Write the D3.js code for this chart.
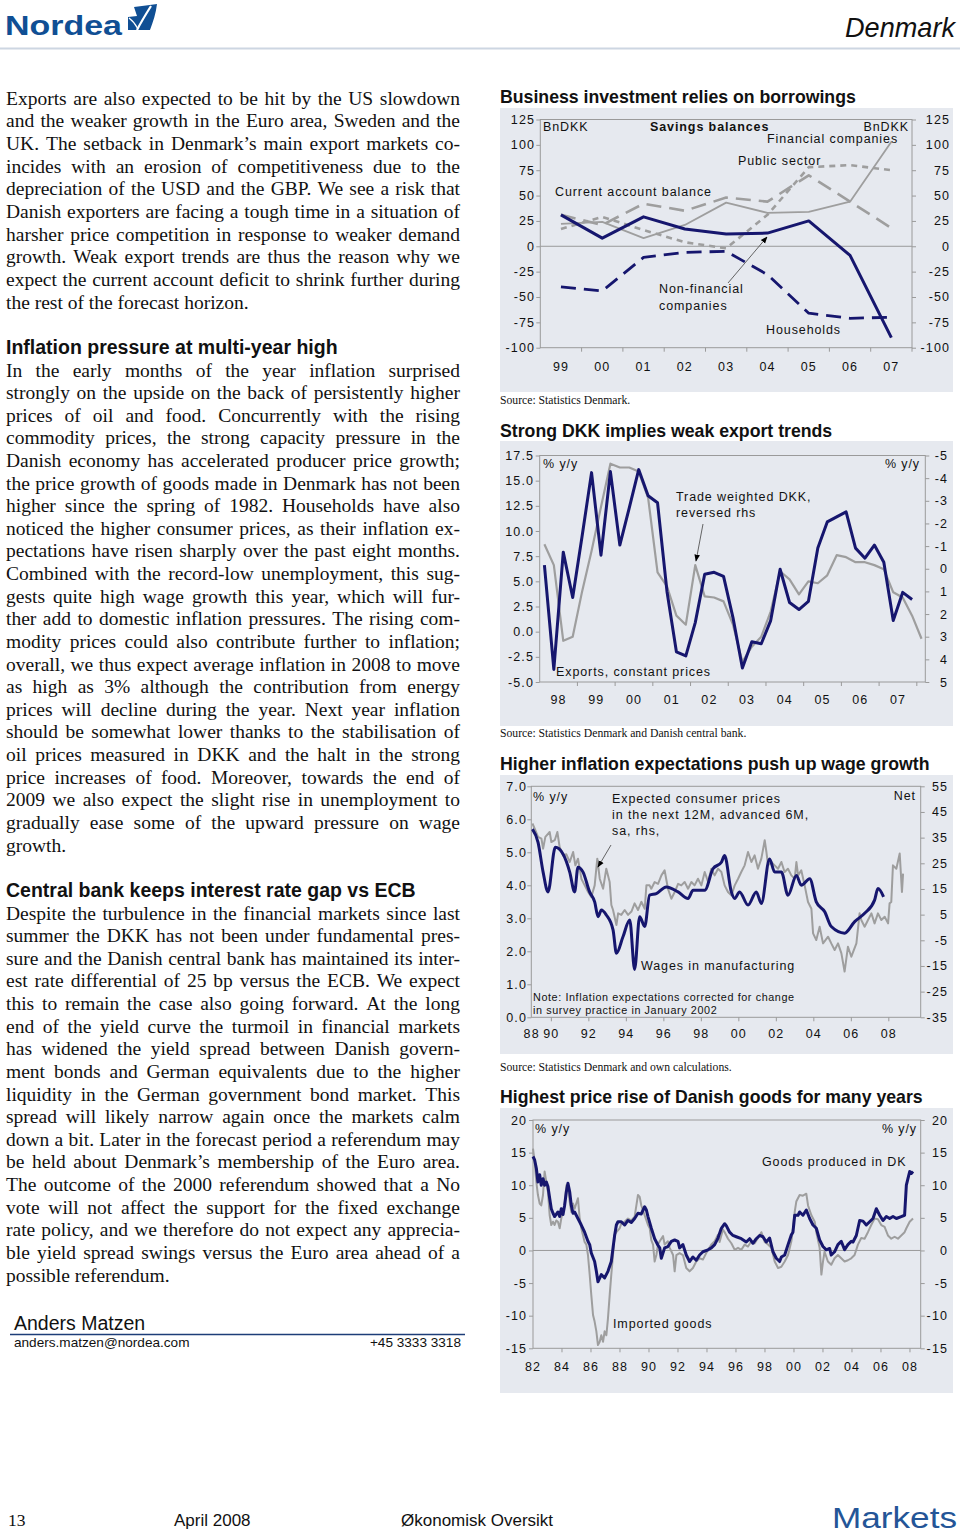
<!DOCTYPE html>
<html><head><meta charset="utf-8">
<script src="https://cdn.jsdelivr.net/npm/d3@7"></script>
<style>
html,body{margin:0;padding:0;background:#fff;}
svg{display:block;}
</style></head>
<body>
<svg id="page" width="960" height="1534"></svg>
<script>
// ================= DATA =================
// Chart 1: Savings balances, BnDKK
const years1 = ["99","00","01","02","03","04","05","06","07"];
const nonFinancial1 = [31, 8, 29, 17, 12, 13, 25, -9, -90];
const households1 = [-40, -44, -11, -6, -5, -28, -66, -71, -70];
const financial1 = [22, 24, 8, 21, 43, 33, 34, 44, 103];
const currentAccount1 = [31, 21, 42, 35, 48, 44, 70, 44, 18];
const publicSector1 = [17, 29, 16, 4, -2, 31, 78, 80, 75];
const yTicks1 = [125, 100, 75, 50, 25, 0, -25, -50, -75, -100];

// Chart 2: quarterly, Q1 1998 .. Q1 2008
const yearLabels2 = ["98","99","00","01","02","03","04","05","06","07"];
const exports2 = [6.6, -3.75, 7.9, 3.4, 9.5, 15.8, 7.6, 15.9, 8.6, 12.3,
  16.1, 13.5, 12.8, 4.0, -2.0, -2.4, 0.9, 5.7, 5.9, 5.5,
  1.4, -3.6, -1.0, -1.2, 1.1, 6.2, 2.9, 2.2, 3.0, 8.3,
  10.9, 11.4, 11.9, 8.3, 7.3, 8.6, 6.9, 1.1, 3.9, 3.2];
const tradeDKK2 = [-1.08, -0.16, 3.18, 3.0, 1.0, -0.78, -2.73, -4.64, -4.47, -4.47,
  -4.29, -3.13, 0.16, 0.78, 2.07, 2.47, -0.16, 1.22, 1.27, 1.44,
  2.47, 4.11, 3.44, 3.0, 1.89, 0.11, 0.47, 1.13, 0.56, 0.64,
  0.29, -0.6, -0.51, -0.29, -0.29, -0.16, 0.02, 1.04, 1.27, 2.07, 3.09];
const yTicksL2 = [17.5, 15, 12.5, 10, 7.5, 5, 2.5, 0, -2.5, -5];
const yTicksR2 = [-5, -4, -3, -2, -1, 0, 1, 2, 3, 4, 5];

// Chart 3
const wageYears3 = [1988.99,1989.29,1989.56,1989.82,1990.21,1990.62,1990.98,1991.24,1991.42,1991.69,
  1992.04,1992.31,1992.49,1992.67,1992.93,1993.29,1993.47,1993.82,1994.18,1994.44,
  1994.71,1994.98,1995.24,1995.60,1996.13,1996.76,1997.29,1997.56,1998.18,1998.62,
  1999.07,1999.24,1999.60,1999.78,2000.04,2000.49,2000.93,2001.20,2001.64,2001.91,
  2002.27,2002.62,2003.07,2003.33,2003.78,2004.13,2004.58,2004.93,2005.64,2006.18,
  2006.71,2007.24,2007.42,2007.72];
const wages3 = [5.7,5.3,4.4,3.8,5.15,4.95,4.4,3.8,4.55,4.4,
  3.8,3.5,3.05,3.25,3.1,2.65,1.94,2.44,2.95,1.45,
  3.05,2.75,3.7,3.75,3.95,3.8,3.6,3.85,3.85,4.5,
  4.7,4.9,3.8,3.6,3.8,3.4,3.8,3.45,4.8,4.4,
  4.4,3.7,4.3,4.0,4.2,3.5,3.2,2.75,2.55,2.9,
  3.15,3.55,3.9,3.65];
const expYears3 = [1988.99,1989.11,1989.29,1989.47,1989.56,1989.68,1989.91,1990.00,1990.18,1990.32,
  1990.44,1990.62,1990.80,1990.98,1991.16,1991.28,1991.42,1991.60,1991.78,1991.96,
  1992.13,1992.31,1992.45,1992.58,1992.76,1992.93,1993.11,1993.20,1993.29,1993.47,
  1993.56,1993.73,1993.91,1994.09,1994.27,1994.44,1994.62,1994.80,1994.98,1995.07,
  1995.24,1995.33,1995.51,1995.69,1995.87,1996.04,1996.22,1996.40,1996.58,1996.76,
  1996.93,1997.11,1997.29,1997.47,1997.64,1997.82,1998.00,1998.18,1998.36,1998.53,
  1998.71,1998.89,1999.07,1999.24,1999.42,1999.60,1999.78,1999.96,2000.13,2000.31,
  2000.49,2000.67,2000.84,2001.02,2001.20,2001.38,2001.47,2001.56,2001.73,2001.91,
  2002.09,2002.27,2002.44,2002.62,2002.80,2002.98,2003.07,2003.16,2003.33,2003.51,
  2003.69,2003.87,2003.96,2004.13,2004.31,2004.49,2004.76,2004.93,2005.11,2005.29,
  2005.47,2005.64,2005.82,2006.00,2006.27,2006.44,2006.53,2006.71,2006.89,2007.07,
  2007.24,2007.42,2007.60,2007.78,2007.96,2008.04,2008.13,2008.22,2008.40,2008.58,
  2008.70,2008.76];
const expect3 = [40.5,38.5,35.3,34.6,30.7,35.3,37.2,33.3,34.0,37.2,
  31.4,28.1,28.5,25.5,29.4,24.2,26.8,19.0,16.4,13.8,
  11.9,16.4,26.8,19.0,15.1,22.9,17.7,8.75,6.8,0.95,
  5.5,4.9,6.8,4.9,6.2,9.4,6.8,10.0,7.3,16.4,
  16.4,15.1,17.7,17.0,20.3,22.3,15.1,11.2,13.8,17.0,
  16.4,17.7,15.1,17.7,16.4,19.0,16.4,21.6,17.7,22.9,
  20.3,22.9,21.6,16.4,13.8,12.5,16.4,19.0,21.6,24.2,
  29.4,25.5,28.1,22.9,26.8,34.0,29.4,24.2,25.5,24.2,
  22.9,25.5,21.6,22.9,20.3,19.0,25.5,20.3,22.3,16.4,
  9.9,7.3,-2.3,-4.9,0.3,-6.2,-3.6,-6.2,-8.8,-6.2,
  -10.1,-17.2,-7.5,-11.4,-6.2,5.5,2.9,0.3,2.9,5.5,
  1.6,5.5,2.9,4.2,1.6,9.4,9.9,24.2,22.9,28.8,
  13.8,21.0];
const xTickYears3 = [1988.95,1990,1992,1994,1996,1998,2000,2002,2004,2006,2008];
const xTickLabels3 = ["88","90","92","94","96","98","00","02","04","06","08"];
const yTicksL3 = [7,6,5,4,3,2,1,0];
const yTicksR3 = [55,45,35,25,15,5,-5,-15,-25,-35];

// Chart 4
const domYears4 = [1982.00,1982.11,1982.23,1982.34,1982.46,1982.57,1982.69,1982.80,1982.92,1983.03,
  1983.15,1983.26,1983.38,1983.49,1983.72,1983.84,1983.95,1984.07,1984.18,1984.30,
  1984.41,1984.53,1984.64,1984.76,1984.87,1985.10,1985.33,1985.56,1985.79,1985.91,
  1986.02,1986.25,1986.37,1986.48,1986.71,1986.94,1987.17,1987.40,1987.52,1987.63,
  1987.75,1987.86,1988.09,1988.32,1988.55,1988.78,1989.01,1989.24,1989.47,1989.70,
  1989.82,1989.93,1990.16,1990.39,1990.62,1990.74,1990.85,1991.08,1991.31,1991.54,
  1991.77,1992.00,1992.11,1992.34,1992.57,1992.80,1993.03,1993.26,1993.49,1993.72,
  1994.07,1994.30,1994.53,1994.76,1994.99,1995.22,1995.33,1995.56,1995.79,1996.02,
  1996.37,1996.71,1996.94,1997.17,1997.40,1997.63,1997.86,1998.09,1998.32,1998.55,
  1998.78,1999.01,1999.13,1999.36,1999.59,1999.82,1999.93,2000.05,2000.28,2000.39,
  2000.62,2000.85,2001.08,2001.31,2001.54,2001.77,2002.00,2002.23,2002.46,2002.57,
  2002.80,2003.03,2003.26,2003.49,2003.72,2003.95,2004.07,2004.30,2004.53,2004.76,
  2004.99,2005.22,2005.45,2005.68,2005.91,2006.14,2006.37,2006.60,2006.83,2007.06,
  2007.40,2007.63,2007.75,2007.86,2007.98,2008.09,2008.21];
const domestic4 = [14.4,13.9,12.6,10.5,11.6,10.0,11.0,10.0,10.5,9.8,
  8.0,6.4,5.7,5.2,5.9,5.2,6.4,5.5,6.9,9.0,
  10.3,9.0,6.9,5.7,5.9,4.9,3.9,2.8,1.4,0.9,
  -0.4,-1.7,-3.2,-4.8,-3.7,-4.2,-3.2,-1.7,0.4,2.3,
  3.9,4.4,4.4,3.9,4.6,4.3,4.9,5.7,5.6,6.7,
  6.2,5.2,3.4,1.8,0.8,0.4,-1.2,0.4,0.6,1.4,
  1.6,1.4,0.4,0.9,-0.7,-1.7,-1.0,-1.5,-0.7,-0.2,
  0.1,0.4,0.9,1.9,3.4,4.1,3.8,2.8,2.3,2.1,
  1.8,1.3,1.8,1.1,1.8,2.3,2.1,1.3,1.9,-0.2,
  -1.2,-1.7,-1.0,-0.7,0.9,2.4,2.8,5.4,5.4,5.9,
  5.4,6.2,4.9,3.9,3.4,1.6,0.6,0.1,0.3,-0.7,
  -0.2,0.9,1.4,0.1,0.9,1.4,1.3,2.3,4.6,4.5,
  3.9,4.4,4.9,6.4,5.4,4.6,5.2,4.9,5.2,4.9,
  5.2,5.4,10.0,11.0,12.1,11.8,12.1];
const impYears4 = [1982.00,1982.11,1982.23,1982.34,1982.46,1982.57,1982.69,1982.80,1982.92,1983.03,
  1983.15,1983.26,1983.38,1983.49,1983.61,1983.72,1983.84,1983.95,1984.18,1984.30,
  1984.41,1984.53,1984.64,1984.76,1984.87,1985.10,1985.22,1985.33,1985.56,1985.68,
  1985.79,1985.91,1986.02,1986.14,1986.25,1986.37,1986.48,1986.60,1986.71,1986.83,
  1986.94,1987.06,1987.17,1987.29,1987.40,1987.52,1987.63,1987.75,1987.98,1988.09,
  1988.32,1988.55,1988.78,1989.01,1989.13,1989.24,1989.36,1989.47,1989.70,1989.93,
  1990.05,1990.16,1990.28,1990.39,1990.51,1990.62,1990.74,1990.97,1991.08,1991.31,
  1991.43,1991.66,1991.77,1991.89,1992.11,1992.34,1992.57,1992.80,1993.03,1993.26,
  1993.49,1993.72,1993.95,1994.30,1994.53,1994.76,1994.87,1995.10,1995.22,1995.45,
  1995.68,1995.91,1996.14,1996.37,1996.60,1996.83,1997.06,1997.29,1997.52,1997.75,
  1997.98,1998.21,1998.44,1998.67,1998.90,1999.13,1999.36,1999.59,1999.82,1999.93,
  2000.05,2000.16,2000.39,2000.62,2000.85,2000.97,2001.20,2001.43,2001.54,2001.77,
  2001.89,2002.00,2002.11,2002.34,2002.57,2002.80,2003.03,2003.26,2003.49,2003.72,
  2003.95,2004.18,2004.41,2004.64,2004.87,2005.10,2005.33,2005.56,2005.79,2006.02,
  2006.25,2006.48,2006.71,2006.94,2007.17,2007.40,2007.63,2007.75,2007.98,2008.21];
const imported4 = [15.6,13.6,10.5,8.5,7.2,6.9,8.5,12.1,10.5,9.0,
  5.4,3.9,4.4,3.9,4.6,4.4,3.4,4.9,6.9,10.0,
  10.0,7.5,5.9,7.2,6.4,8.0,4.9,3.4,1.3,0.9,
  -0.7,-3.7,-6.8,-9.9,-10.9,-12.4,-14.5,-14.0,-13.0,-14.0,
  -12.4,-13.0,-10.4,-6.8,-3.7,-0.7,2.4,2.8,3.4,4.1,
  4.4,4.9,4.6,5.2,6.9,8.5,8.2,6.9,5.4,3.9,
  3.4,1.6,0.9,-1.7,-0.7,0.9,1.4,2.2,0.9,1.4,
  0.4,-0.7,-3.2,-0.7,-0.4,-0.7,-2.7,-3.2,-2.7,-1.7,
  -1.2,-1.4,-0.4,0.9,1.4,2.4,1.3,3.2,2.8,1.8,
  1.1,0.1,0.4,0.1,0.9,0.6,1.4,1.1,1.9,2.8,
  1.3,0.9,0.4,-1.7,-2.7,-2.5,-1.7,-0.7,1.4,3.4,
  5.9,7.5,8.5,8.4,8.7,6.9,5.4,4.4,2.8,0.4,
  -3.7,-1.7,-0.2,-1.7,-2.2,-1.2,-0.7,-1.2,-1.7,-1.5,
  -1.2,-0.7,0.9,1.9,1.8,2.8,3.9,4.9,4.8,3.9,
  3.6,2.3,1.8,2.1,1.8,2.3,2.8,3.4,4.4,4.9];
const xTickLabels4 = ["82","84","86","88","90","92","94","96","98","00","02","04","06","08"];
const yTicks4 = [20,15,10,5,0,-5,-10,-15];

// Left column text
const para1 = [
 "Exports are also expected to be hit by the US slowdown",
 "and the weaker growth in the Euro area, Sweden and the",
 "UK. The setback in Denmark’s main export markets co-",
 "incides with an erosion of competitiveness due to the",
 "depreciation of the USD and the GBP. We see a risk that",
 "Danish exporters are facing a tough time in a situation of",
 "harsher price competition in response to weaker demand",
 "growth. Weak export trends are thus the reason why we",
 "expect the current account deficit to shrink further during",
 "the rest of the forecast horizon."];
const head2 = "Inflation pressure at multi-year high";
const para2 = [
 "In the early months of the year inflation surprised",
 "strongly on the upside on the back of persistently higher",
 "prices of oil and food. Concurrently with the rising",
 "commodity prices, the strong capacity pressure in the",
 "Danish economy has accelerated producer price growth;",
 "the price growth of goods made in Denmark has not been",
 "higher since the spring of 1982. Households have also",
 "noticed the higher consumer prices, as their inflation ex-",
 "pectations have risen sharply over the past eight months.",
 "Combined with the record-low unemployment, this sug-",
 "gests quite high wage growth this year, which will fur-",
 "ther add to domestic inflation pressures. The rising com-",
 "modity prices could also contribute further to inflation;",
 "overall, we thus expect average inflation in 2008 to move",
 "as high as 3% although the contribution from energy",
 "prices will decline during the year. Next year inflation",
 "should be somewhat lower thanks to the stabilisation of",
 "oil prices measured in DKK and the halt in the strong",
 "price increases of food. Moreover, towards the end of",
 "2009 we also expect the slight rise in unemployment to",
 "gradually ease some of the upward pressure on wage",
 "growth."];
const head3 = "Central bank keeps interest rate gap vs ECB";
const para3 = [
 "Despite the turbulence in the financial markets since last",
 "summer the DKK has not been under fundamental pres-",
 "sure and the Danish central bank has maintained its inter-",
 "est rate differential of 25 bp versus the ECB. We expect",
 "this to remain the case also going forward. At the long",
 "end of the yield curve the turmoil in financial markets",
 "has widened the yield spread between Danish govern-",
 "ment bonds and German equivalents due to the higher",
 "liquidity in the German government bond market. This",
 "spread will likely narrow again once the markets calm",
 "down a bit. Later in the forecast period a referendum may",
 "be held about Denmark’s membership of the Euro area.",
 "The outcome of the 2000 referendum showed that a No",
 "vote will not affect the support for the fixed exchange",
 "rate policy, and we therefore do not expect any apprecia-",
 "ble yield spread swings versus the Euro area ahead of a",
 "possible referendum."];

// ================= DRAWING =================
const SANS = "'Liberation Sans', Arial, Helvetica, sans-serif";
const SERIF = "'Liberation Serif', 'Times New Roman', serif";
const NAVY = "#16166e", GRAY = "#9e9e9e", PANEL = "#e6e9ef", FRAME = "#9a9a9a", INK = "#111";
const BLUE = "#104f94";
const svg = d3.select("#page");
const hyph = f => (d => f(d).replace("\u2212", "-"));
const fmtInt = hyph(d3.format("d")), fmt1 = hyph(d3.format(".1f"));

const defs = svg.append("defs");
defs.append("marker").attr("id","arr").attr("viewBox","0 0 10 10").attr("refX",9).attr("refY",5)
  .attr("markerWidth",7).attr("markerHeight",7).attr("markerUnits","userSpaceOnUse").attr("orient","auto")
  .append("path").attr("d","M0,1 L10,5 L0,9 Z").attr("fill","#000");

function txt(x, y, s, o = {}) {
  const t = svg.append("text").attr("x", x).attr("y", y).text(s)
    .attr("font-family", o.family || SANS).attr("font-size", o.size || 12.5)
    .attr("fill", o.fill || INK);
  if (o.weight) t.attr("font-weight", o.weight);
  if (o.style) t.attr("font-style", o.style);
  if (o.anchor) t.attr("text-anchor", o.anchor);
  if (o.ls != null) t.attr("letter-spacing", o.ls);
  if (o.len) t.attr("textLength", o.len).attr("lengthAdjust", "spacingAndGlyphs");
  return t;
}

// ---- header ----
txt(5, 35, "Nordea", {size: 28, weight: "bold", fill: BLUE, len: 117});
svg.append("path").attr("d","M128,17 L137,16 L134,7 C142,6 150,5 157,4 C156,13 153,22 150,30 L128,30 Z").attr("fill", BLUE);
svg.append("path").attr("d","M137,30 C141,22 146,14 151,6").attr("fill","none").attr("stroke","#fff").attr("stroke-width",2.2);
svg.append("path").attr("d","M129,18 C133,21 136,25 138,29").attr("fill","none").attr("stroke","#fff").attr("stroke-width",1.2);
txt(955, 37, "Denmark", {size: 28, style: "italic", anchor: "end", len: 110});
svg.append("line").attr("x1",0).attr("x2",960).attr("y1",48.5).attr("y2",48.5).attr("stroke","#cdd6e2").attr("stroke-width",2);

// ---- justified paragraphs ----
function paragraph(lines, x, y0, dy, width) {
  lines.forEach((ln, i) => {
    const t = svg.append("text").attr("y", y0 + i * dy).attr("font-family", SERIF)
      .attr("font-size", 19.5).attr("fill", INK);
    const words = ln.split(" ");
    const spans = words.map(w => t.append("tspan").text(w));
    const widths = spans.map(s => s.node().getComputedTextLength());
    const total = d3.sum(widths);
    const last = i === lines.length - 1;
    const gap = (!last && words.length > 1) ? (width - total) / (words.length - 1) : 19.5 * 0.25;
    let cx = x;
    spans.forEach((s, k) => { s.attr("x", cx); cx += widths[k] + gap; });
  });
}
paragraph(para1, 6, 104.5, 22.67, 454);
txt(6, 354, head2, {size: 19.5, weight: "bold"});
paragraph(para2, 6, 376.5, 22.62, 454);
txt(6, 897, head3, {size: 19.5, weight: "bold"});
paragraph(para3, 6, 919.5, 22.625, 454);

// ---- author ----
txt(14, 1330, "Anders Matzen", {size: 19.5});
svg.append("line").attr("x1",10).attr("x2",465).attr("y1",1334.5).attr("y2",1334.5).attr("stroke","#1d3d78").attr("stroke-width",1.5);
txt(14, 1347, "anders.matzen@nordea.com", {size: 13.6});
txt(461, 1347, "+45 3333 3318", {size: 13.6, anchor: "end"});

// ---- footer ----
txt(8, 1526, "13", {size: 17.5, family: SERIF});
txt(174, 1526, "April 2008", {size: 17});
txt(401, 1526, "Økonomisk Oversikt", {size: 17});
txt(832, 1528, "Markets", {size: 30, fill: "#245597", len: 125});

// ---- chart helpers ----
const TICKFONT = 12.5, TICKLS = 1.1;
function chartBase(title, titleY, py, ph, x0, x1, yTop, yBot, source, sourceY) {
  txt(500, titleY, title, {size: 17.7, weight: "bold"});
  svg.append("rect").attr("x", 500).attr("y", py).attr("width", 453).attr("height", ph).attr("fill", PANEL);
  svg.append("rect").attr("x", x0).attr("y", yTop).attr("width", x1 - x0).attr("height", yBot - yTop)
    .attr("fill", "none").attr("stroke", FRAME).attr("stroke-width", 1);
  if (source) txt(500, sourceY, source, {size: 11.7, family: SERIF});
}
function styleAxis(ax) {
  ax.select(".domain").remove();
  ax.selectAll("line").attr("stroke", FRAME);
  ax.selectAll("text").attr("font-family", SANS).attr("font-size", TICKFONT)
    .attr("letter-spacing", TICKLS).attr("fill", INK);
}
function leftAxis(scale, vals, fmt, x0, labelRight) {
  const ax = svg.append("g").attr("transform", `translate(${x0},0)`)
    .call(d3.axisLeft(scale).tickValues(vals).tickFormat(fmt).tickSize(4).tickPadding(x0 - labelRight - 4));
  styleAxis(ax);
}
function rightAxis(scale, vals, fmt, x1, labelRight) {
  const ax = svg.append("g").attr("transform", `translate(${x1},0)`)
    .call(d3.axisRight(scale).tickValues(vals).tickFormat(fmt).tickSize(4));
  styleAxis(ax);
  ax.selectAll("text").attr("text-anchor", "end").attr("x", labelRight - x1);
}
function bottomTicks(xs, y) {
  svg.append("g").selectAll("line").data(xs).join("line")
    .attr("x1", d => d).attr("x2", d => d).attr("y1", y).attr("y2", y + 4).attr("stroke", FRAME);
}
function bottomLabels(xs, labels, y) {
  svg.append("g").selectAll("text").data(labels).join("text")
    .attr("x", (d, i) => xs[i]).attr("y", y).attr("text-anchor", "middle")
    .attr("font-family", SANS).attr("font-size", TICKFONT).attr("letter-spacing", TICKLS)
    .attr("fill", INK).text(d => d);
}
function drawLine(pts, color, width, dash, curve) {
  const p = svg.append("path").datum(pts)
    .attr("d", d3.line().x(d => d[0]).y(d => d[1]).curve(curve || d3.curveLinear))
    .attr("fill", "none").attr("stroke", color).attr("stroke-width", width)
    .attr("stroke-linejoin", "round");
  if (dash) p.attr("stroke-dasharray", dash);
  return p;
}
function arrow(xa, ya, xb, yb) {
  svg.append("line").attr("x1", xa).attr("y1", ya).attr("x2", xb).attr("y2", yb)
    .attr("stroke", "#555").attr("stroke-width", 0.9).attr("marker-end", "url(#arr)");
}
const ann = (x, y, s, o = {}) => txt(x, y, s, Object.assign({size: 12.5, ls: 0.9}, o));

// ================= CHART 1 =================
{
  const x0 = 540.3, x1 = 912, yTop = 119.5, yBot = 347.7;
  chartBase("Business investment relies on borrowings", 103, 108, 284, x0, x1, yTop, yBot, "Source: Statistics Denmark.", 404);
  const x = d3.scaleBand().domain(years1).range([x0, x1]);
  const y = d3.scaleLinear().domain([-100, 125]).range([yBot, yTop]);
  svg.append("line").attr("x1", x0).attr("x2", x1).attr("y1", y(0)).attr("y2", y(0)).attr("stroke", FRAME);
  leftAxis(y, yTicks1, fmtInt, x0, 535);
  rightAxis(y, yTicks1, fmtInt, x1, 950);
  bottomTicks(years1.map(d => x(d)).slice(1).concat([x1]), yBot);
  bottomLabels(years1.map(d => x(d) + x.bandwidth() / 2), years1, 370.5);
  const pts = arr => arr.map((v, i) => [x(years1[i]) + x.bandwidth() / 2, y(v)]);
  drawLine(pts(financial1), GRAY, 1.8);
  drawLine(pts(currentAccount1), GRAY, 2.6, "15,8");
  drawLine(pts(publicSector1), GRAY, 2.6, "6,5");
  drawLine(pts(households1), NAVY, 2.8, "15,8");
  drawLine(pts(nonFinancial1), NAVY, 3);
  ann(543, 130.5, "BnDKK");
  ann(650, 130.5, "Savings balances", {weight: "bold"});
  ann(909, 130.5, "BnDKK", {anchor: "end"});
  ann(767, 142.5, "Financial companies");
  ann(738, 164.5, "Public sector");
  ann(555, 195.5, "Current account balance");
  ann(659, 292.5, "Non-financial");
  ann(659, 309.5, "companies");
  ann(766, 333.5, "Households");
  arrow(728, 283, 767, 237);
}

// ================= CHART 2 =================
{
  const x0 = 539.7, x1 = 925.3, yTop = 455.5, yBot = 682;
  chartBase("Strong DKK implies weak export trends", 437, 441, 285, x0, x1, yTop, yBot, "Source: Statistics Denmark and Danish central bank.", 737);
  const x = d3.scaleLinear().domain([0, 40.9]).range([x0, x1]);
  const yL = d3.scaleLinear().domain([-5, 17.5]).range([yBot, yTop]);
  const yR = d3.scaleLinear().domain([-5, 5]).range([yTop, yBot]);
  leftAxis(yL, yTicksL2, fmt1, x0, 534);
  rightAxis(yR, yTicksR2, fmtInt, x1, 948);
  bottomTicks(d3.range(1, 11).map(k => x(4 * k)), yBot);
  bottomLabels(yearLabels2.map((d, k) => x(4 * k + 2)), yearLabels2, 703.5);
  drawLine(tradeDKK2.map((v, i) => [x(i + 0.5), yR(v)]), GRAY, 2.2);
  drawLine(exports2.map((v, i) => [x(i + 0.5), yL(v)]), NAVY, 3);
  ann(543, 467.5, "% y/y");
  ann(920, 467.5, "% y/y", {anchor: "end"});
  ann(676, 500.5, "Trade weighted DKK,");
  ann(676, 516.5, "reversed rhs");
  arrow(703, 524, 696, 561);
  ann(556, 675.5, "Exports, constant prices");
}

// ================= CHART 3 =================
{
  const x0 = 531.3, x1 = 920.7, yTop = 786.3, yBot = 1017.3;
  chartBase("Higher inflation expectations push up wage growth", 770, 775, 279, x0, x1, yTop, yBot, "Source: Statistics Denmark and own calculations.", 1071);
  const x = d3.scaleLinear().domain([1988.93, 2009.70]).range([x0, x1]);
  const yL = d3.scaleLinear().domain([0, 7]).range([yBot, yTop]);
  const yR = d3.scaleLinear().domain([-35, 55]).range([yBot, yTop]);
  leftAxis(yL, yTicksL3, fmt1, x0, 527);
  rightAxis(yR, yTicksR3, fmtInt, x1, 948);
  bottomTicks(xTickYears3.slice(1).map(d => x(d)), yBot);
  bottomLabels(xTickYears3.map(d => x(d)), xTickLabels3, 1037.5);
  drawLine(expYears3.map((d, i) => [x(d), yR(expect3[i])]), GRAY, 2);
  drawLine(wageYears3.map((d, i) => [x(d), yL(wages3[i])]), NAVY, 3, null, d3.curveMonotoneX);
  ann(533, 800.5, "% y/y");
  ann(916, 799.5, "Net", {anchor: "end"});
  ann(612, 802.5, "Expected consumer prices");
  ann(612, 818.5, "in the next 12M, advanced 6M,");
  ann(612, 834.5, "sa, rhs,");
  arrow(611, 845, 598, 867);
  ann(641, 969.5, "Wages in manufacturing");
  ann(533, 1001, "Note: Inflation expectations corrected for change", {size: 10.8, ls: 0.6});
  ann(533, 1014, "in survey practice in January 2002", {size: 10.8, ls: 0.6});
}

// ================= CHART 4 =================
{
  const x0 = 533, x1 = 920.7, yTop = 1120, yBot = 1348.3;
  chartBase("Highest price rise of Danish goods for many years", 1103, 1108, 285, x0, x1, yTop, yBot, "", 1400);
  const x = d3.scaleLinear().domain([1982, 2008.74]).range([x0, x1]);
  const y = d3.scaleLinear().domain([-15, 20]).range([yBot, yTop]);
  svg.append("line").attr("x1", x0).attr("x2", x1).attr("y1", y(0)).attr("y2", y(0)).attr("stroke", FRAME);
  leftAxis(y, yTicks4, fmtInt, x0, 527);
  rightAxis(y, yTicks4, fmtInt, x1, 948);
  const tickYears = xTickLabels4.map((d, i) => 1982 + 2 * i);
  bottomTicks(tickYears.slice(1).map(d => x(d)), yBot);
  bottomLabels(tickYears.map(d => x(d)), xTickLabels4, 1370.5);
  drawLine(impYears4.map((d, i) => [x(d), y(imported4[i])]), GRAY, 2);
  drawLine(domYears4.map((d, i) => [x(d), y(domestic4[i])]), NAVY, 3);
  ann(535, 1132.5, "% y/y");
  ann(917, 1132.5, "% y/y", {anchor: "end"});
  ann(762, 1165.5, "Goods produced in DK");
  ann(613, 1327.5, "Imported goods");
}
</script>
</body></html>
